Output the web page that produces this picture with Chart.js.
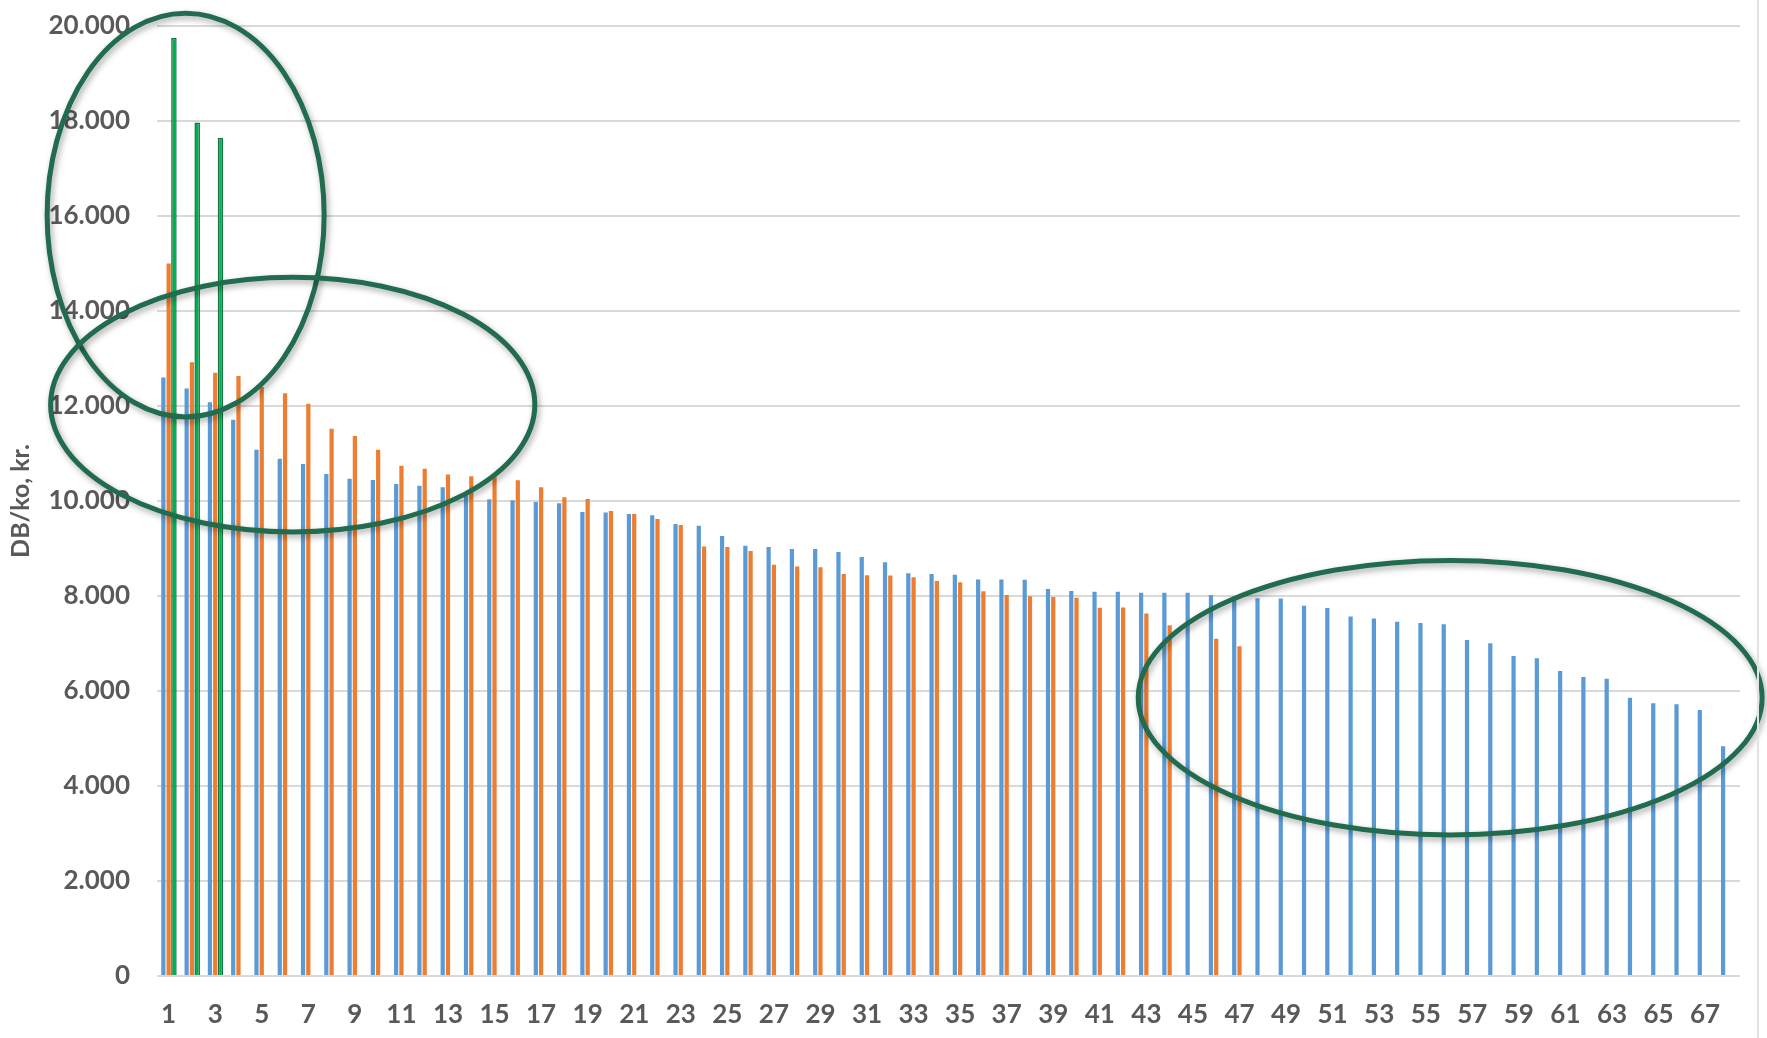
<!DOCTYPE html>
<html>
<head>
<meta charset="utf-8">
<script src="https://cdn.jsdelivr.net/npm/chart.js@4"></script>
<style>
    html, body { margin: 0; padding: 0; background: #fff; }
    #wrap { width: 1767px; height: 1038px; position: relative; }
</style>
</head>
<body>
<div id="wrap"><canvas id="dbChart"></canvas></div>
<script>
// DB/ko per bedrift, sorteret
const categories = Array.from({ length: 68 }, (_, i) => String(i + 1));

const seriesBlue = [
    12600, 12370, 12080, 11710, 11080, 10890, 10780, 10570, 10470, 10440,
    10360, 10320, 10290, 10180, 10035, 10015, 9980, 9955, 9770, 9760,
    9725, 9700, 9515, 9480, 9265, 9060, 9030, 8990, 8990, 8925,
    8820, 8710, 8480, 8465, 8450, 8350, 8345, 8340, 8150, 8105,
    8090, 8090, 8070, 8070, 8070, 8020, 7990, 7955, 7945, 7795,
    7745, 7570, 7525, 7460, 7430, 7405, 7075, 7005, 6735, 6690,
    6420, 6295, 6260, 5860, 5740, 5720, 5600, 4835
];

const seriesOrange = [
    15000, 12920, 12700, 12630, 12400, 12270, 12050, 11520, 11370, 11080,
    10740, 10680, 10560, 10520, 10500, 10435, 10290, 10080, 10040, 9790,
    9725, 9620, 9495, 9040, 9030, 8950, 8660, 8620, 8605, 8465,
    8435, 8430, 8395, 8315, 8290, 8100, 8020, 7995, 7980, 7965,
    7755, 7760, 7630, 7385, null, 7100, 6940
];

const seriesGreen = [19750, 17970, 17650];

const yTicks = [0, 2000, 4000, 6000, 8000, 10000, 12000, 14000, 16000, 18000, 20000];

// markeringer: [midte kategori-indeks, halv bredde i kategorier, midte værdi, halv højde i værdi]
const ellipses = [
    [0.73, 5.95, 16020, 4250],
    [5.33, 10.4, 12030, 2680],
    [55.05, 13.4, 5860, 2890]
];

function formatDa(v) {
    return String(v).replace(/\B(?=(\d{3})+(?!\d))/g, '.');
}

const ellipsePlugin = {
    id: 'ellipses',
    afterDraw(chart) {
        const ctx = chart.ctx;
        const x = chart.scales.x;
        const y = chart.scales.y;
        ctx.save();
        ctx.strokeStyle = '#216B4E';
        ctx.lineWidth = 5;
        ctx.shadowColor = 'rgba(0,0,0,0.35)';
        ctx.shadowBlur = 6;
        ctx.shadowOffsetX = 2;
        ctx.shadowOffsetY = 3;
        ellipses.forEach(e => {
            const cx = x.getPixelForValue(e[0]);
            const rx = Math.abs(x.getPixelForValue(e[0] + e[1]) - cx);
            const cy = y.getPixelForValue(e[2]);
            const ry = Math.abs(y.getPixelForValue(e[2] + e[3]) - cy);
            ctx.beginPath();
            ctx.ellipse(cx, cy, rx, ry, 0, 0, Math.PI * 2);
            ctx.stroke();
        });
        ctx.restore();

        // kant fra slidet i højre side
        ctx.save();
        ctx.strokeStyle = '#e3e3e3';
        ctx.lineWidth = 2;
        ctx.beginPath();
        ctx.moveTo(1758, 0);
        ctx.lineTo(1758, chart.height);
        ctx.stroke();
        ctx.restore();
    }
};

const tickFont = { family: 'Lato', weight: 'bold', size: 26 };

const ctx = document.getElementById('dbChart').getContext('2d');
new Chart(ctx, {
    type: 'bar',
    data: {
        labels: categories,
        datasets: [
            {
                label: 'Serie 1',
                data: seriesBlue,
                backgroundColor: '#5B9BD5',
                categoryPercentage: 0.68,
                barPercentage: 0.8
            },
            {
                label: 'Serie 2',
                data: seriesOrange,
                backgroundColor: '#ED7D31',
                categoryPercentage: 0.68,
                barPercentage: 0.8
            },
            {
                label: 'Serie 3',
                data: seriesGreen,
                backgroundColor: '#00B050',
                borderColor: '#1E7145',
                borderWidth: 1.5,
                categoryPercentage: 0.68,
                barPercentage: 1.05
            }
        ]
    },
    options: {
        responsive: true,
        maintainAspectRatio: false,
        animation: false,
        layout: { padding: { top: 26, right: 27, left: 0, bottom: 0 } },
        plugins: {
            legend: { display: false },
            tooltip: { enabled: false }
        },
        scales: {
            x: {
                grid: { display: false, drawTicks: false },
                border: { display: false },
                ticks: {
                    autoSkip: false,
                    maxRotation: 0,
                    padding: 23,
                    color: '#595959',
                    font: tickFont,
                    callback: function(value, index) {
                        return index % 2 === 0 ? categories[index] : '';
                    }
                },
                afterFit(scale) { scale.height = 62; }
            },
            y: {
                min: 0,
                max: 20000,
                afterBuildTicks(scale) {
                    scale.ticks = yTicks.map(v => ({ value: v }));
                },
                grid: { color: '#d9d9d9', lineWidth: 2, drawTicks: false },
                border: { display: false },
                ticks: {
                    padding: 27,
                    color: '#595959',
                    font: tickFont,
                    callback: v => formatDa(v)
                },
                title: {
                    display: true,
                    text: 'DB/ko, kr.',
                    color: '#595959',
                    font: { family: 'Lato', weight: 'bold', size: 25 },
                    padding: { top: 6, bottom: 0 }
                },
                afterFit(scale) {
                    scale.width = 157;
                    scale.paddingTop = 0;
                    scale.paddingBottom = 0;
                }
            }
        }
    },
    plugins: [ellipsePlugin]
});
</script>
</body>
</html>
